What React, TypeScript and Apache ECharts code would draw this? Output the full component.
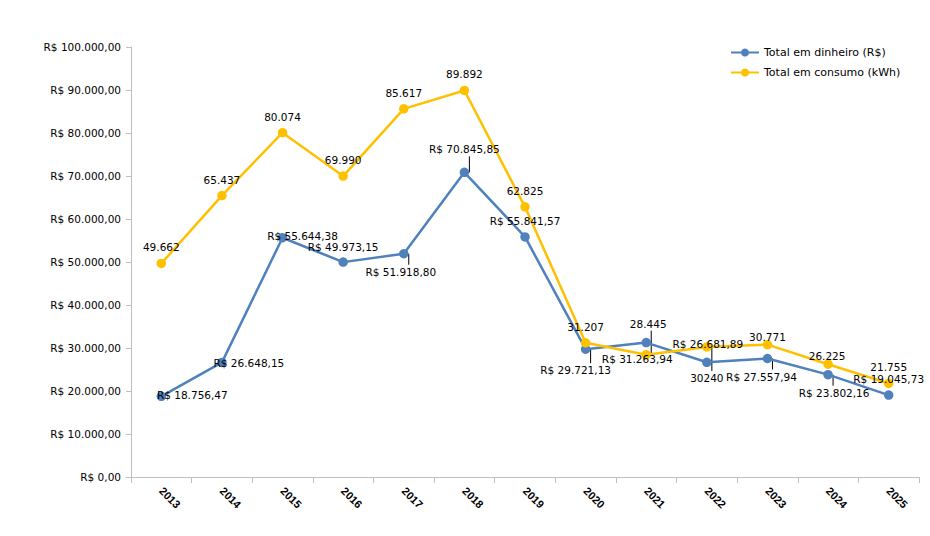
import React, { useEffect, useRef } from "react";
import * as echarts from "echarts";

// ---- Data ----
const anos = ["2013", "2014", "2015", "2016", "2017", "2018", "2019", "2020", "2021", "2022", "2023", "2024", "2025"];
const totalDinheiro = [18756.47, 26648.15, 55644.38, 49973.15, 51918.8, 70845.85, 55841.57, 29721.13, 31263.94, 26681.89, 27557.94, 23802.16, 19045.73];
const totalConsumo = [49662, 65437, 80074, 69990, 85617, 89892, 62825, 31207, 28445, 30240, 30771, 26225, 21755];
// the reference shows this year's consumption label without a thousands separator
const consumoSemSeparador = ["2022"];
const serieNomes = ["Total em dinheiro (R$)", "Total em consumo (kWh)"];
const yMin = 0;
const yMax = 100000;
const yInterval = 10000;

// ---- Layout of the data labels (pixel offsets of label centre from marker) ----
const dinheiroLabelOffsets: [number, number][] = [
  [31, -1], [27, 1], [20, -2], [0, -15], [-3, 18], [0, -23], [0, -16],
  [-10, 21], [-9, 16], [1, -18], [-6, 18], [6, 18], [0, -16],
];
const consumoLabelOffsets: [number, number][] = [
  [0, -16], [0, -16], [0, -16], [0, -16], [0, -16], [0, -16], [0, -16],
  [0, -16], [2, -31], [0, 31], [0, -8], [-1, -8], [0, -16],
];
// indices of points whose label is joined to the marker by a leader line
const dinheiroLeader = [4, 5, 7, 10, 11];
const consumoLeader = [8, 9];

const AZUL = "#4F81BD";
const AMARELO = "#FFC000";

function fmtNum(v: number, d: number): string {
  const fixed = v.toFixed(d);
  const parts = fixed.split(".");
  const inteiro = parts[0].replace(/\B(?=(\d{3})+(?!\d))/g, ".");
  return parts[1] ? inteiro + "," + parts[1] : inteiro;
}

function leaderData(values: number[], idx: number[], offs: [number, number][]) {
  return idx.map((i) => {
    const dy = offs[i][1];
    const end = dy - Math.sign(dy) * 7;
    return [i, values[i], end];
  });
}

export default function App() {
  const ref = useRef<HTMLDivElement>(null);

  useEffect(() => {
    if (!ref.current) return;
    const chart = echarts.init(ref.current, null, { renderer: "svg" });

    const labelBase = {
      show: true,
      position: "inside",
      color: "#000",
      fontFamily: "DejaVu Sans",
      fontSize: 10.5,
    };

    const leaders = [
      ...leaderData(totalDinheiro, dinheiroLeader, dinheiroLabelOffsets),
      ...leaderData(totalConsumo, consumoLeader, consumoLabelOffsets),
    ];

    chart.setOption({
      animation: false,
      backgroundColor: "#fff",
      grid: { left: 131, right: 11, top: 47, bottom: 59, containLabel: false },
      legend: {
        orient: "vertical",
        left: 730,
        top: 47,
        padding: 0,
        itemWidth: 28,
        itemHeight: 10,
        itemGap: 9,
        textStyle: { fontFamily: "DejaVu Sans", fontSize: 11, color: "#000" },
        data: serieNomes,
      },
      xAxis: {
        type: "category",
        data: anos,
        boundaryGap: true,
        axisLine: { show: true, lineStyle: { color: "#BFBFBF", width: 1 } },
        axisTick: { show: true, length: 6, alignWithLabel: false, lineStyle: { color: "#BFBFBF" } },
        axisLabel: {
          interval: 0,
          rotate: -45,
          margin: 12,
          fontFamily: "Liberation Sans",
          fontWeight: "bold",
          fontSize: 11,
          color: "#000",
        },
        splitLine: { show: false },
      },
      yAxis: {
        type: "value",
        min: yMin,
        max: yMax,
        interval: yInterval,
        axisLine: { show: true, lineStyle: { color: "#BFBFBF", width: 1 } },
        axisTick: { show: true, length: 5, lineStyle: { color: "#BFBFBF" } },
        axisLabel: {
          margin: 10,
          fontFamily: "DejaVu Sans",
          fontSize: 10.5,
          color: "#000",
          formatter: (v: number) => "R$ " + fmtNum(v, 2),
        },
        splitLine: { show: false },
      },
      series: [
        {
          name: "leaders",
          type: "custom",
          silent: true,
          z: 1,
          encode: { x: 0, y: 1 },
          data: leaders,
          renderItem: (_params: any, api: any) => {
            const p = api.coord([api.value(0), api.value(1)]);
            const end = api.value(2);
            return {
              type: "line",
              shape: { x1: p[0] + 5, y1: p[1], x2: p[0] + 5, y2: p[1] + end },
              style: { stroke: "#000", lineWidth: 1 },
            };
          },
        },
        {
          name: serieNomes[0],
          type: "line",
          z: 2,
          symbol: "circle",
          symbolSize: 9.5,
          lineStyle: { color: AZUL, width: 2.5 },
          itemStyle: { color: AZUL },
          label: {
            ...labelBase,
            formatter: (p: any) => "R$ " + fmtNum(p.value, 2),
          },
          data: totalDinheiro.map((v, i) => ({
            value: v,
            label: { offset: dinheiroLabelOffsets[i] },
          })),
        },
        {
          name: serieNomes[1],
          type: "line",
          z: 2,
          symbol: "circle",
          symbolSize: 9.5,
          lineStyle: { color: AMARELO, width: 2.5 },
          itemStyle: { color: AMARELO },
          label: {
            ...labelBase,
            formatter: (p: any) =>
              consumoSemSeparador.includes(anos[p.dataIndex]) ? String(p.value) : fmtNum(p.value, 0),
          },
          data: totalConsumo.map((v, i) => ({
            value: v,
            label: { offset: consumoLabelOffsets[i] },
          })),
        },
      ],
    });

    return () => {
      chart.dispose();
    };
  }, []);

  return (
    <div
      ref={ref}
      style={{ position: "fixed", left: 0, top: 0, width: 930, height: 536, background: "#fff" }}
    />
  );
}
